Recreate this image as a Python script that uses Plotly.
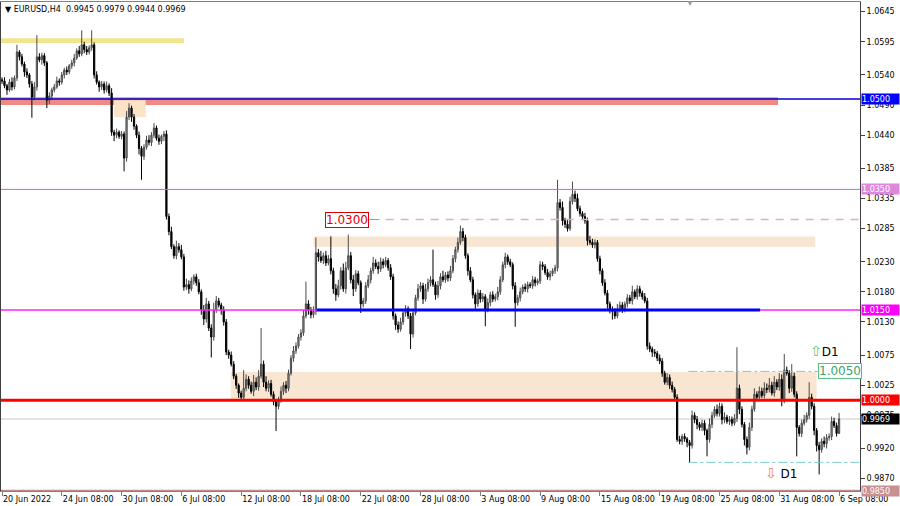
import plotly.graph_objects as go

# ---------------- data ----------------
closes = [
    1.0530, 1.0522, 1.0515, 1.0528, 1.0520, 1.0535, 1.0578, 1.0570, 1.0558, 1.0545, 1.0540, 1.0525,
    1.0503, 1.0520, 1.0570, 1.0565, 1.0572, 1.0560, 1.0498, 1.0505, 1.0515, 1.0520, 1.0530, 1.0528,
    1.0540, 1.0548, 1.0545, 1.0555, 1.0560, 1.0568, 1.0580, 1.0575, 1.0590, 1.0582, 1.0578, 1.0585,
    1.0590, 1.0540, 1.0528, 1.0520, 1.0525, 1.0515, 1.0522, 1.0510, 1.0445, 1.0440, 1.0445, 1.0438,
    1.0442, 1.0402, 1.0470, 1.0485, 1.0470, 1.0455, 1.0440, 1.0418, 1.0405, 1.0420, 1.0432, 1.0428,
    1.0440, 1.0452, 1.0435, 1.0430, 1.0438, 1.0442, 1.0305, 1.0280, 1.0255, 1.0240, 1.0255, 1.0250,
    1.0238, 1.0188, 1.0192, 1.0185, 1.0198, 1.0205, 1.0195, 1.0180, 1.0150, 1.0135, 1.0160, 1.0120,
    1.0105, 1.0150, 1.0165, 1.0158, 1.0150, 1.0130, 1.0080, 1.0075, 1.0060, 1.0040, 1.0025, 1.0012,
    1.0005, 1.0020, 1.0035, 1.0025, 1.0015, 1.0030, 1.0022, 1.0040, 1.0060, 1.0030, 1.0020, 1.0028,
    1.0010, 0.9998, 0.9990, 1.0000, 1.0015, 1.0025, 1.0020, 1.0045, 1.0070, 1.0082, 1.0090, 1.0105,
    1.0112, 1.0140, 1.0160, 1.0150, 1.0142, 1.0148, 1.0245, 1.0238, 1.0232, 1.0240, 1.0228, 1.0235,
    1.0215, 1.0185, 1.0175, 1.0190, 1.0215, 1.0185, 1.0220, 1.0240, 1.0200, 1.0185, 1.0210, 1.0195,
    1.0160, 1.0165, 1.0190, 1.0200, 1.0215, 1.0228, 1.0222, 1.0218, 1.0230, 1.0225, 1.0232, 1.0220,
    1.0205, 1.0140, 1.0125, 1.0118, 1.0130, 1.0145, 1.0152, 1.0140, 1.0110, 1.0145, 1.0170, 1.0185,
    1.0190, 1.0168, 1.0185, 1.0195, 1.0200, 1.0192, 1.0175, 1.0190, 1.0205, 1.0200, 1.0208, 1.0203,
    1.0215, 1.0235, 1.0250, 1.0262, 1.0280, 1.0270, 1.0240, 1.0215, 1.0200, 1.0175, 1.0160, 1.0178,
    1.0168, 1.0172, 1.0150, 1.0162, 1.0175, 1.0168, 1.0172, 1.0180, 1.0200, 1.0225, 1.0238, 1.0230,
    1.0225, 1.0190, 1.0162, 1.0170, 1.0180, 1.0188, 1.0185, 1.0192, 1.0190, 1.0200, 1.0195, 1.0198,
    1.0225, 1.0222, 1.0212, 1.0205, 1.0210, 1.0215, 1.0220, 1.0328, 1.0320, 1.0298, 1.0292, 1.0285,
    1.0330, 1.0342, 1.0335, 1.0318, 1.0310, 1.0305, 1.0298, 1.0265, 1.0262, 1.0258, 1.0262, 1.0235,
    1.0215, 1.0195, 1.0178, 1.0160, 1.0150, 1.0148, 1.0140, 1.0152, 1.0158, 1.0150, 1.0160, 1.0170,
    1.0165, 1.0180, 1.0172, 1.0185, 1.0178, 1.0172, 1.0165, 1.0090, 1.0085, 1.0080, 1.0078, 1.0070,
    1.0065, 1.0045, 1.0030, 1.0038, 1.0025, 1.0018, 1.0005, 0.9935, 0.9932, 0.9940, 0.9936, 0.9930,
    0.9925, 0.9975, 0.9968, 0.9960, 0.9955, 0.9962, 0.9950, 0.9935, 0.9960, 0.9975, 0.9985, 0.9978,
    0.9990, 0.9968, 0.9972, 0.9965, 0.9968, 0.9962, 0.9970, 1.0020, 0.9985, 0.9960, 0.9935, 0.9922,
    0.9955, 0.9985, 1.0010, 1.0005, 1.0015, 1.0008, 1.0020, 1.0018, 1.0025, 1.0012, 1.0030, 1.0022,
    1.0035, 1.0000, 1.0050, 1.0045, 1.0020, 1.0040, 1.0010, 0.9955, 0.9945, 0.9962, 0.9968, 0.9975,
    1.0005, 0.9990, 0.9950, 0.9925, 0.9918, 0.9932, 0.9928, 0.9938, 0.9940, 0.9965, 0.9958, 0.9945,
    0.9969,
]
first_open = 1.0532

# upper / lower wick lengths in pips
up_pips = [
    4, 6, 3, 5, 8, 4, 12, 3, 5, 4, 6, 3,
    5, 8, 36, 6, 5, 4, 3, 6, 4, 5, 7, 4,
    5, 4, 6, 3, 5, 7, 4, 8, 24, 5, 6, 4,
    24, 4, 6, 3, 5, 4, 7, 4, 8, 4, 6, 3,
    5, 4, 10, 8, 4, 5, 3, 6, 4, 5, 7, 8,
    5, 8, 4, 6, 3, 5, 6, 5, 8, 4, 10, 6,
    8, 5, 10, 7, 6, 4, 5, 6, 4, 8, 10, 5,
    6, 12, 8, 5, 4, 6, 5, 4, 6, 5, 4, 3,
    4, 30, 8, 5, 6, 12, 8, 10, 60, 6, 10, 5,
    6, 5, 4, 6, 8, 5, 7, 6, 5, 8, 6, 5,
    6, 10, 37, 6, 5, 8, 25, 6, 10, 5, 8, 6,
    37, 5, 8, 10, 6, 12, 10, 35, 6, 8, 6, 5,
    4, 5, 6, 8, 5, 10, 6, 8, 7, 5, 6, 4,
    6, 5, 4, 6, 7, 5, 6, 4, 5, 6, 5, 8,
    6, 5, 8, 7, 6, 50, 5, 8, 6, 10, 5, 6,
    8, 6, 5, 8, 10, 6, 5, 4, 6, 5, 4, 6,
    5, 6, 4, 7, 5, 6, 5, 8, 6, 5, 7, 4,
    5, 4, 6, 5, 7, 4, 6, 5, 4, 6, 5, 4,
    6, 5, 4, 6, 5, 4, 5, 38, 6, 10, 5, 8,
    8, 21, 6, 8, 5, 4, 6, 5, 8, 6, 5, 4,
    5, 4, 6, 5, 4, 6, 5, 8, 6, 5, 4, 6,
    5, 10, 4, 6, 5, 4, 6, 5, 6, 4, 5, 4,
    6, 5, 4, 7, 5, 6, 4, 5, 6, 4, 5, 3,
    4, 8, 5, 6, 4, 6, 5, 3, 10, 6, 5, 8,
    6, 5, 8, 4, 6, 5, 7, 68, 6, 5, 4, 5,
    8, 6, 10, 5, 8, 6, 10, 8, 12, 6, 10, 5,
    10, 8, 27, 6, 5, 20, 6, 5, 4, 6, 8, 5,
    25, 6, 5, 4, 6, 5, 8, 6, 5, 8, 6, 5,
    10,
]
dn_pips = [
    5, 4, 8, 3, 6, 4, 5, 6, 4, 8, 5, 6,
    34, 5, 6, 4, 8, 5, 13, 6, 5, 4, 3, 6,
    4, 6, 5, 4, 5, 6, 3, 5, 4, 6, 5, 4,
    5, 6, 4, 8, 5, 6, 4, 5, 6, 10, 5, 4,
    5, 22, 6, 5, 8, 6, 5, 10, 39, 6, 4, 5,
    6, 5, 4, 6, 5, 8, 5, 6, 4, 5, 6, 5,
    4, 6, 5, 8, 4, 6, 5, 4, 8, 10, 6, 5,
    34, 6, 5, 4, 8, 6, 5, 6, 4, 5, 6, 8,
    6, 4, 5, 6, 4, 8, 5, 6, 4, 8, 5, 6,
    4, 6, 41, 5, 4, 6, 8, 5, 4, 6, 5, 4,
    6, 5, 4, 8, 6, 5, 6, 8, 4, 6, 5, 4,
    6, 8, 10, 4, 6, 5, 8, 4, 6, 12, 5, 4,
    15, 6, 5, 4, 6, 5, 4, 8, 5, 6, 4, 5,
    5, 6, 8, 6, 4, 5, 6, 5, 25, 6, 4, 5,
    5, 8, 4, 5, 6, 4, 8, 5, 6, 4, 5, 6,
    5, 4, 6, 5, 4, 6, 5, 8, 4, 6, 8, 5,
    6, 5, 27, 4, 6, 5, 4, 6, 5, 4, 6, 5,
    4, 6, 40, 5, 6, 4, 5, 6, 4, 5, 6, 4,
    5, 6, 4, 5, 6, 4, 5, 6, 5, 8, 6, 5,
    4, 5, 6, 4, 5, 6, 5, 8, 4, 5, 6, 5,
    6, 5, 4, 8, 6, 14, 5, 4, 6, 5, 4, 6,
    5, 6, 4, 5, 6, 5, 4, 6, 5, 8, 6, 5,
    5, 6, 4, 5, 6, 5, 6, 4, 5, 6, 5, 8,
    28, 5, 6, 8, 5, 6, 8, 28, 5, 6, 4, 5,
    5, 8, 6, 4, 6, 5, 4, 6, 8, 5, 10, 12,
    5, 6, 4, 5, 6, 4, 5, 6, 5, 4, 6, 5,
    6, 10, 5, 4, 8, 6, 5, 48, 5, 6, 4, 5,
    6, 5, 8, 10, 41, 5, 6, 8, 5, 6, 4, 5,
    1,
]

tick_bars = [0, 24, 48, 72, 96, 120, 144, 168, 192, 216, 240, 264, 288, 312, 336]
tick_labels = ["20 Jun 2022", "24 Jun 08:00", "30 Jun 08:00", "6 Jul 08:00", "12 Jul 08:00",
               "18 Jul 08:00", "22 Jul 08:00", "28 Jul 08:00", "3 Aug 08:00", "9 Aug 08:00",
               "15 Aug 08:00", "19 Aug 08:00", "25 Aug 08:00", "31 Aug 08:00", "6 Sep 08:00"]
price_ticks = [1.0645, 1.0595, 1.0540, 1.0490, 1.0440, 1.0385, 1.0335, 1.0285, 1.0230,
               1.0180, 1.0130, 1.0075, 1.0025, 0.9975, 0.9920, 0.9870]

level_prices = [1.0500, 1.0350, 1.0150, 1.0000, 0.9850]
yellow_zone = [1.0593, 1.0601]
red_zone = [1.0490, 1.0503]
small_zone = [1.0470, 1.0498]
upper_zone = [1.0255, 1.0272]
lower_zone = [1.0000, 1.0047]
dashed_level = 1.0300
d1_high = 1.0048
d1_low = 0.9897
d1_label = 1.0050

# ---------------- build ----------------
n = len(closes)
bars = list(range(n))
opens = [first_open] + closes[:-1]
highs = [round(max(o, c) + u * 0.0001, 5) for o, c, u in zip(opens, closes, up_pips)]
lows = [round(min(o, c) - d * 0.0001, 5) for o, c, d in zip(opens, closes, dn_pips)]

y_lo, y_hi = 0.98495, 1.0661

fig = go.Figure()
fig.add_trace(go.Candlestick(
    x=bars, open=opens, high=highs, low=lows, close=closes,
    increasing=dict(line=dict(color="#4a4a4a", width=1), fillcolor="#9a9a9a"),
    decreasing=dict(line=dict(color="#000000", width=1), fillcolor="#000000"),
    whiskerwidth=0, hoverinfo="skip", showlegend=False,
))

shapes = []

def rect(x0, x1, y0, y1, color, xref="x", layer="below"):
    shapes.append(dict(type="rect", xref=xref, yref="y", x0=x0, x1=x1, y0=y0, y1=y1,
                       fillcolor=color, line=dict(width=0), layer=layer))

def hline(y, x0, x1, color, width, dash="solid", xref="x", layer="above"):
    shapes.append(dict(type="line", xref=xref, yref="y", x0=x0, x1=x1, y0=y, y1=y,
                       line=dict(color=color, width=width, dash=dash), layer=layer))

rect(-1, 73, yellow_zone[0], yellow_zone[1], "#f3e48e")
rect(-1, 311.5, red_zone[0], red_zone[1], "#f08a84")
rect(45, 57.7, small_zone[0], small_zone[1], "#fbe3c8")
rect(125, 326.4, upper_zone[0], upper_zone[1], "#f9e6d2")
rect(91.8, 327, lower_zone[0], lower_zone[1], "#f9e6d2")

hline(level_prices[0], 0, 1, "#0000cc", 1.5, xref="paper")
hline(level_prices[1], 0, 1, "#cc66cc", 1, xref="paper")
hline(level_prices[2], 0, 1, "#ff22ff", 1.5, xref="paper")
hline(level_prices[2], 126.3, 304.3, "#0000ff", 3)
hline(level_prices[3], 0, 1, "#ff0000", 3, xref="paper")
hline(level_prices[4], 0, 1, "#c08c8c", 2, xref="paper")
hline(closes[-1], 0, 1, "#c8c8c8", 1, xref="paper", layer="below")
hline(dashed_level, 154, 345, "#dcb4b4", 1.5, dash="8px,7px")
hline(dashed_level, 147.5, 151.5, "#e08080", 1)
hline(d1_high, 275.5, 327.5, "#7ccccc", 1, dash="dashdot")
hline(d1_high, 327.5, 329.3, "#7ccccc", 1)
hline(d1_low, 275.5, 345, "#7ccccc", 1, dash="dashdot")

annotations = []
# title
annotations.append(dict(
    xref="paper", yref="paper", x=0.002, y=0.997, xanchor="left", yanchor="top", showarrow=False,
    text="\u25BC EURUSD,H4  %.4f %.4f %.4f %.4f" % (opens[-1], highs[-1], lows[-1], closes[-1]),
    font=dict(family="DejaVu Sans", size=8, color="#000000")))
# small marker at the top
annotations.append(dict(xref="x", yref="paper", x=276, y=1.0, yanchor="middle", showarrow=False,
                        text="\u25BC", font=dict(size=8, color="#a0a0a0")))

# right axis price boxes
for price, bg in zip([level_prices[0], level_prices[1], level_prices[2], level_prices[3], closes[-1], level_prices[4]],
                     ["#0000ff", "#dd88dd", "#ff00ff", "#ff0000", "#000000", "#c89090"]):
    annotations.append(dict(
        xref="paper", yref="paper", x=1.0, y=(price - y_lo) / (y_hi - y_lo),
        xanchor="left", yanchor="middle", xshift=1,
        showarrow=False, text="%.4f" % price, bgcolor=bg, width=37, height=10, borderpad=0,
        font=dict(family="DejaVu Sans", size=8, color="#ffffff"), align="left"))

# chart labels
annotations.append(dict(
    xref="x", yref="y", x=138.3, y=dashed_level, showarrow=False, text="%.4f" % dashed_level,
    font=dict(family="DejaVu Sans", size=12, color="#e00000"), bgcolor="#ffffff",
    bordercolor="#e00000", borderwidth=1, borderpad=0))
annotations.append(dict(
    xref="x", yref="y", x=336.5, y=d1_high, showarrow=False, text="%.4f" % d1_label,
    font=dict(family="DejaVu Sans", size=12, color="#3aa56a"), bgcolor="#ffffff",
    bordercolor="#5cbf88", borderwidth=1, borderpad=0))
annotations.append(dict(
    xref="x", yref="y", x=330, y=1.0082, showarrow=False,
    text="<span style='color:#5cbf88;font-size:14px'>\u21E7</span>D1",
    font=dict(family="DejaVu Sans", size=12, color="#000000")))
annotations.append(dict(
    xref="x", yref="y", x=312.5, y=0.9880, showarrow=False,
    text="<span style='color:#f08050;font-size:14px'>\u21E9</span> D1",
    font=dict(family="DejaVu Sans", size=12, color="#000000")))

fig.update_layout(
    width=900, height=506,
    margin=dict(l=1, r=40, t=2, b=15, autoexpand=False),
    paper_bgcolor="#ffffff", plot_bgcolor="#ffffff",
    shapes=shapes, annotations=annotations,
    xaxis=dict(
        range=[-0.4, 344.4], rangeslider=dict(visible=False), showgrid=False, zeroline=False,
        tickmode="array", tickvals=tick_bars, ticktext=tick_labels, tickangle=0,
        ticks="outside", ticklen=4, tickcolor="#808080", ticklabelposition="outside right",
        tickfont=dict(family="DejaVu Sans", size=8, color="#000000"),
        showline=True, linecolor="#808080", mirror=True, linewidth=1, automargin=False,
    ),
    yaxis=dict(
        range=[y_lo, y_hi], side="right", showgrid=False, zeroline=False,
        tickmode="array", tickvals=price_ticks, ticktext=["%.4f" % p for p in price_ticks],
        ticks="outside", ticklen=4, tickcolor="#404040",
        tickfont=dict(family="DejaVu Sans", size=8, color="#000000"),
        showline=True, linecolor="#404040", mirror=True, linewidth=1, automargin=False,
    ),
)

fig.write_html("out.html", config={"displayModeBar": False},
               post_script="document.body.style.margin='0';document.body.style.overflow='hidden';")
